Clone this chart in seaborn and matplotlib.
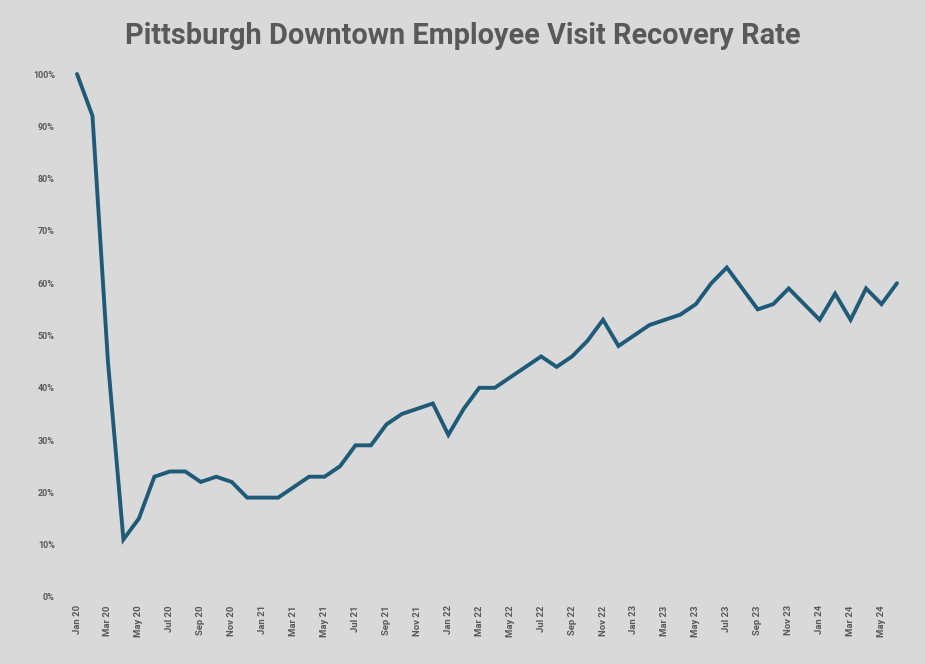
import matplotlib
matplotlib.use("Agg")
import matplotlib.pyplot as plt
import seaborn as sns
import pandas as pd
from matplotlib.ticker import PercentFormatter

# Monthly downtown employee visit recovery, Jan 2020 - Jun 2024 (share of pre-pandemic level)
months = [f"{m} {y}" for y in ["20", "21", "22", "23", "24"]
          for m in ["Jan", "Feb", "Mar", "Apr", "May", "Jun",
                    "Jul", "Aug", "Sep", "Oct", "Nov", "Dec"]][:54]
recovery = [100, 92, 45, 11, 15, 23, 24, 24, 22, 23, 22, 19,
            19, 19, 21, 23, 23, 25, 29, 29, 33, 35, 36, 37,
            31, 36, 40, 40, 42, 44, 46, 44, 46, 49, 53, 48,
            50, 52, 53, 54, 56, 60, 63, 59, 55, 56, 59, 56,
            53, 58, 53, 59, 56, 60]
y_ticks = [0, 10, 20, 30, 40, 50, 60, 70, 80, 90, 100]

df = pd.DataFrame({"idx": range(len(months)), "month": months,
                   "rate": [v / 100 for v in recovery]})

sns.set_theme(style="white")
bg = "#d9d9d9"
text_col = "#595959"
line_col = "#1f5b79"

fig = plt.figure(figsize=(9.25, 6.64), dpi=100, facecolor=bg)
ax = fig.add_axes([77 / 925, 67 / 664, 820 / 925, 523 / 664], facecolor=bg)

sns.lineplot(data=df, x="idx", y="rate", ax=ax, color=line_col,
             linewidth=2.8, solid_joinstyle="miter")
for line in ax.lines:
    line.set_clip_on(False)

ax.set_xlim(0, len(months) - 1)
ax.set_ylim(0, 1)
ax.set_yticks([t / 100 for t in y_ticks])
ax.yaxis.set_major_formatter(PercentFormatter(1.0, decimals=0))
ax.set_xticks(range(0, len(months), 2))
ax.set_xticklabels(months[::2], rotation=90)

ax.tick_params(axis="y", length=0, pad=16, labelsize=6.5, labelcolor=text_col)
ax.tick_params(axis="x", length=0, pad=6, labelsize=6.8, labelcolor=text_col)
for lbl in ax.get_xticklabels() + ax.get_yticklabels():
    lbl.set_fontweight("bold")
    lbl.set_fontfamily("Roboto")

for s in ax.spines.values():
    s.set_visible(False)
ax.grid(False)
ax.set_xlabel("")
ax.set_ylabel("")

fig.text(0.5, 1 - 36 / 664, "Pittsburgh Downtown Employee Visit Recovery Rate",
         ha="center", va="center", fontsize=20.8, fontweight="bold",
         color=text_col, family="Roboto")

fig.savefig("out.png", dpi=100, facecolor=bg)
